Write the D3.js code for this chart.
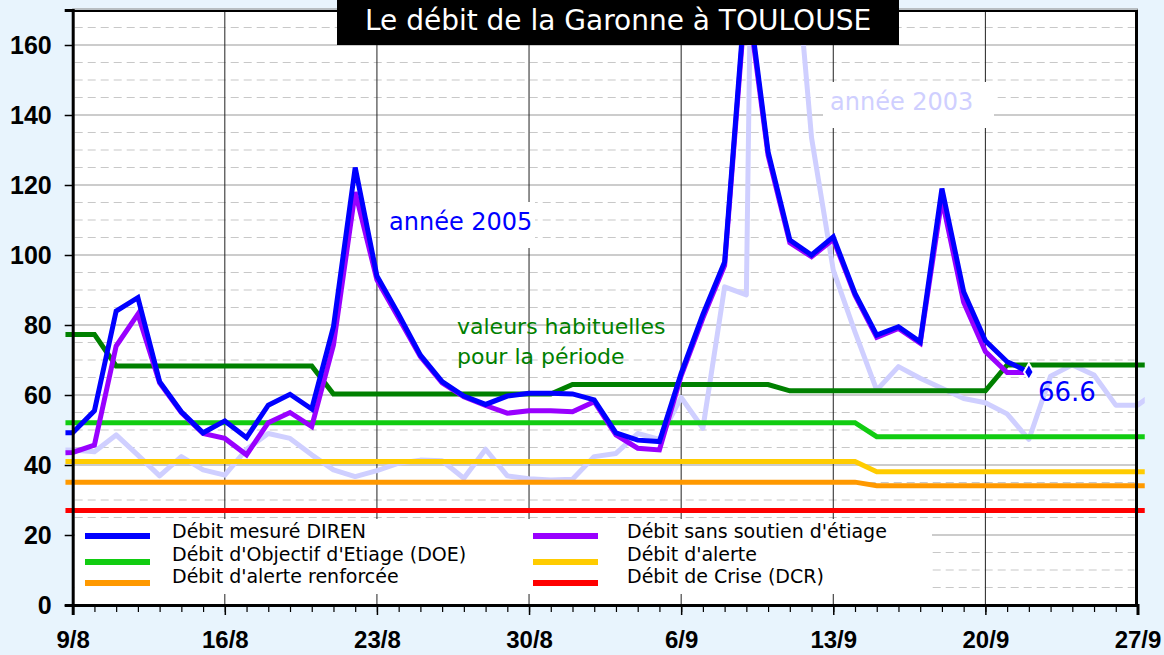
<!DOCTYPE html>
<html>
<head>
<meta charset="utf-8">
<script src="https://cdn.jsdelivr.net/npm/d3@7"></script>
<style>
  html, body { margin: 0; padding: 0; background: #e8f4fd; }
  svg { display: block; }
</style>
</head>
<body>
<div id="chart"></div>
<script>
// days counted from 9/8 (index 0 of each series = 8/8, i.e. day -1)
const firstDay = -1;

// Débit mesuré DIREN (2005), 8/8 -> 22/9
const debitMesure = [49.2, 49.2, 55.5, 84, 87.8, 63.8, 55.2, 49.2, 52.6, 47.8, 57.1, 60.2, 56, 79.5, 125, 94,
  83, 71.4, 63.8, 59.7, 57.3, 59.7, 60.5, 60.5, 60.3, 58.6, 49.2, 47.1, 46.7, 66.2, 83, 98, 178, 129.5,
  104.3, 100, 105.2, 89, 77.1, 79.5, 75.2, 119, 89.5, 75.5, 69.5, 66.6];

// Débit sans soutien d'étiage, 8/8 -> 22/9
const debitSansSoutien = [43.3, 43.6, 45.7, 74, 83.1, 63.5, 55, 49, 47.6, 42.9, 52.1, 55, 51, 74.3, 118, 92.9,
  82, 71, 63.5, 59.5, 57, 54.8, 55.5, 55.5, 55.2, 58.1, 48.6, 44.8, 44.3, 65.5, 82, 97, 176, 128.5,
  103.5, 99.5, 104.5, 88.5, 76.5, 79, 74.8, 116, 86.5, 72.4, 66.4, 66.4];

// année 2003, 8/8 -> 28/9
const annee2003 = [44.3, 44.3, 43.8, 48.6, 42.8, 36.9, 42.4, 38.6, 37.1, 44.5, 49, 47.6, 42.9, 38.6, 36.7, 38.4,
  40.5, 41.4, 41.2, 36.2, 44.5, 36.9, 36.1, 35.7, 35.9, 42.4, 43.3, 49, 47.3, 59.3, 50.5, 90.9, 88.6, 550,
  205, 133.5, 95.7, 78, 61.4, 68.1, 64.8, 61.9, 59, 57.8, 54.6, 47.3, 65.4, 68.6, 65.7, 57.1, 57.1, 61.5];

// thresholds as [day, value] break points
const valeursHabituelles = [[-1, 77.3], [1, 77.3], [2, 68.3], [11, 68.3], [12, 60.3], [22, 60.3], [23, 63],
  [32, 63], [33, 61.2], [42, 61.2], [43, 68.6], [50, 68.6]];
const debitDOE = [[-1, 52.1], [36, 52.1], [37, 48.1], [50, 48.1]];
const debitAlerte = [[-1, 41], [36, 41], [37, 38.1], [50, 38.1]];
const debitRenforce = [[-1, 35.1], [36, 35.1], [37, 34.1], [50, 34.1]];
const debitCrise = [[-1, 27], [50, 27]];

const xTickDays = [0, 7, 14, 21, 28, 35, 42, 49];
const xTickLabels = ['9/8', '16/8', '23/8', '30/8', '6/9', '13/9', '20/9', '27/9'];
const yTicks = [0, 20, 40, 60, 80, 100, 120, 140, 160];

const legendItems = [
  { label: 'Débit mesuré DIREN', color: '#0000ff' },
  { label: "Débit d'Objectif d'Etiage (DOE)", color: '#11cc11' },
  { label: "Débit d'alerte renforcée", color: '#ff9900' },
  { label: "Débit sans soutien d'étiage", color: '#9900ff' },
  { label: "Débit d'alerte", color: '#ffcc00' },
  { label: 'Débit de Crise (DCR)', color: '#ff0000' }
];

const width = 1164, height = 655;
const x = d3.scaleLinear().domain([0, 49]).range([72.7, 1137.5]);
const y = d3.scaleLinear().domain([0, 170]).range([605, 10]);

const svg = d3.select('#chart').append('svg')
  .attr('width', width)
  .attr('height', height);

svg.append('rect').attr('width', width).attr('height', height).attr('fill', '#e8f4fd');

// plot area
svg.append('rect')
  .attr('x', x(0)).attr('y', y(170))
  .attr('width', x(49) - x(0)).attr('height', y(0) - y(170))
  .attr('fill', '#ffffff');

const grid = svg.append('g');

// minor dashed grid every 5
grid.selectAll('line.minor')
  .data(d3.range(5, 170, 5).filter(v => v % 20 !== 0))
  .join('line')
  .attr('x1', x(0) + 2).attr('x2', x(49) - 3)
  .attr('y1', d => y(d)).attr('y2', d => y(d))
  .attr('stroke', '#c8c8c8').attr('stroke-width', 1.2)
  .attr('stroke-dasharray', '8,5');

grid.selectAll('line.major')
  .data(yTicks.filter(v => v > 0))
  .join('line')
  .attr('x1', x(0)).attr('x2', x(49))
  .attr('y1', d => y(d)).attr('y2', d => y(d))
  .attr('stroke', '#999').attr('stroke-width', 1.2);

grid.selectAll('line.vert')
  .data(xTickDays.slice(1, -1))
  .join('line')
  .attr('x1', d => x(d)).attr('x2', d => x(d))
  .attr('y1', y(170)).attr('y2', y(0))
  .attr('stroke', '#222').attr('stroke-width', 1);

// white boxes behind the annotations and legend
svg.append('rect').attr('x', 380).attr('y', 202).attr('width', 155).attr('height', 46).attr('fill', '#fff');
svg.append('rect').attr('x', 823).attr('y', 82).attr('width', 171).attr('height', 46).attr('fill', '#fff');
svg.append('rect').attr('x', 75).attr('y', 519).attr('width', 857).attr('height', 75).attr('fill', '#fff');

svg.append('defs').append('clipPath').attr('id', 'plotclip')
  .append('rect')
  .attr('x', x(-1 / 3)).attr('y', y(170))
  .attr('width', x(49 + 1 / 3) - x(-1 / 3)).attr('height', y(0) - y(170) + 4);

const series = svg.append('g').attr('clip-path', 'url(#plotclip)');

const lineDaily = d3.line().x((d, i) => x(i + firstDay)).y(d => y(d));
const linePairs = d3.line().x(d => x(d[0])).y(d => y(d[1]));

series.append('path').datum(annee2003)
  .attr('d', lineDaily).attr('fill', 'none')
  .attr('stroke', '#cfcfff').attr('stroke-width', 5).attr('stroke-linejoin', 'round');

const thresholds = [
  { data: debitCrise, color: '#ff0000' },
  { data: debitRenforce, color: '#ff9900' },
  { data: debitAlerte, color: '#ffcc00' },
  { data: debitDOE, color: '#11cc11' },
  { data: valeursHabituelles, color: '#008000' }
];
series.selectAll('path.thr')
  .data(thresholds)
  .join('path')
  .attr('class', 'thr')
  .attr('d', d => linePairs(d.data))
  .attr('fill', 'none')
  .attr('stroke', d => d.color)
  .attr('stroke-width', 5);

series.append('path').datum(debitSansSoutien)
  .attr('d', lineDaily).attr('fill', 'none')
  .attr('stroke', '#9900ff').attr('stroke-width', 5).attr('stroke-linejoin', 'miter');

series.append('path').datum(debitMesure)
  .attr('d', lineDaily).attr('fill', 'none')
  .attr('stroke', '#0000ff').attr('stroke-width', 5).attr('stroke-linejoin', 'miter');

// last measured point
const lastDay = debitMesure.length - 1 + firstDay;
const lastVal = debitMesure[debitMesure.length - 1];
svg.append('path')
  .attr('d', d3.symbol().type(d3.symbolDiamond).size(80))
  .attr('transform', `translate(${x(lastDay)},${y(lastVal)})`)
  .attr('fill', '#0000ff').attr('stroke', '#fff').attr('stroke-width', 2);

svg.append('text')
  .attr('x', 1038).attr('y', 401)
  .attr('fill', '#0000ff')
  .style('font-family', 'DejaVu Sans').style('font-size', '26px')
  .text(lastVal.toFixed(1));

// frame
svg.append('rect')
  .attr('x', x(0)).attr('y', y(170) - 1)
  .attr('width', x(49) - x(0)).attr('height', y(0) - y(170) + 1)
  .attr('fill', 'none').attr('stroke', '#888').attr('stroke-width', 1);
svg.append('line').attr('x1', x(0)).attr('x2', x(49)).attr('y1', y(170) + 1).attr('y2', y(170) + 1)
  .attr('stroke', '#000').attr('stroke-width', 2);
svg.append('line').attr('x1', x(49) - 1).attr('x2', x(49) - 1).attr('y1', y(170)).attr('y2', y(0))
  .attr('stroke', '#000').attr('stroke-width', 3);

// axes
const yAxis = svg.append('g')
  .attr('transform', `translate(${x(0)},0)`)
  .call(d3.axisLeft(y).tickValues(yTicks).tickSize(8).tickPadding(13).tickFormat(d3.format('d')));
yAxis.select('.domain').attr('stroke', '#000').attr('stroke-width', 3);
yAxis.selectAll('.tick line').attr('stroke', '#000').attr('stroke-width', 1.5);
yAxis.selectAll('text')
  .attr('fill', '#000')
  .style('font-family', 'Liberation Sans').style('font-weight', 'bold').style('font-size', '25px');

const xMinor = svg.append('g')
  .attr('transform', `translate(0,${y(0)})`)
  .call(d3.axisBottom(x).tickValues(d3.range(0, 50)).tickSize(7).tickFormat(''));
xMinor.select('.domain').remove();
xMinor.selectAll('.tick line').attr('stroke', '#000').attr('stroke-width', 1.2);

const xAxis = svg.append('g')
  .attr('transform', `translate(0,${y(0)})`)
  .call(d3.axisBottom(x).tickValues(xTickDays).tickSize(10).tickPadding(16)
    .tickFormat((d, i) => xTickLabels[i]));
xAxis.select('.domain').attr('stroke', '#000').attr('stroke-width', 3);
xAxis.selectAll('.tick line').attr('stroke', '#000').attr('stroke-width', 1.5);
xAxis.selectAll('text')
  .attr('fill', '#000')
  .style('font-family', 'Liberation Sans').style('font-weight', 'bold').style('font-size', '24px');

// annotations
svg.append('text').attr('x', 389).attr('y', 230)
  .attr('fill', '#0000ff')
  .style('font-family', 'DejaVu Sans').style('font-size', '24px')
  .text('année 2005');

svg.append('text').attr('x', 830).attr('y', 110)
  .attr('fill', '#cfcfff')
  .style('font-family', 'DejaVu Sans').style('font-size', '24px')
  .text('année 2003');

const hab = svg.append('text')
  .attr('fill', '#008000')
  .style('font-family', 'DejaVu Sans').style('font-size', '22px');
hab.append('tspan').attr('x', 457).attr('y', 334).text('valeurs habituelles');
hab.append('tspan').attr('x', 457).attr('y', 364).text('pour la période');

// legend
const legend = svg.append('g');
const legendRowsText = [538, 561, 583];
const legendRowsSwatch = [536, 562, 583];
legendItems.forEach((item, i) => {
  const col = Math.floor(i / 3), row = i % 3;
  const sx = col === 0 ? 85 : 533;
  const tx = col === 0 ? 172 : 627;
  legend.append('line')
    .attr('x1', sx).attr('x2', sx + 65)
    .attr('y1', legendRowsSwatch[row]).attr('y2', legendRowsSwatch[row])
    .attr('stroke', item.color).attr('stroke-width', 6);
  legend.append('text')
    .attr('x', tx).attr('y', legendRowsText[row])
    .attr('fill', '#000')
    .style('font-family', 'DejaVu Sans').style('font-size', '19px')
    .text(item.label);
});

// title
svg.append('rect').attr('x', 337).attr('y', 0).attr('width', 562).attr('height', 45).attr('fill', '#000');
svg.append('text')
  .attr('x', 618).attr('y', 30)
  .attr('text-anchor', 'middle')
  .attr('fill', '#fff')
  .style('font-family', 'DejaVu Sans').style('font-size', '28px')
  .text('Le débit de la Garonne à TOULOUSE');
</script>
</body>
</html>
